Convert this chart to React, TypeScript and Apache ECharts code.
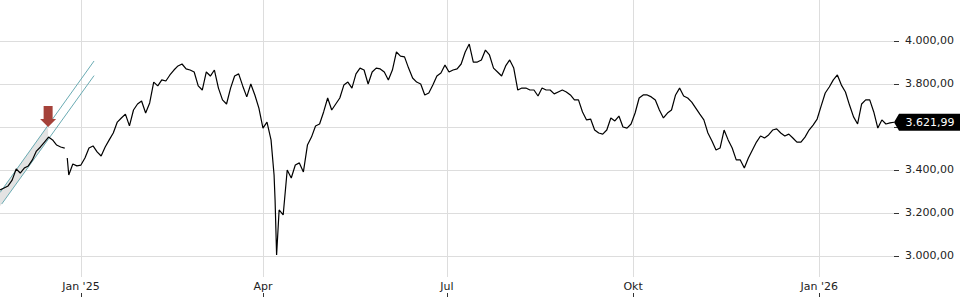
import React, { useEffect, useRef } from 'react';
import * as echarts from 'echarts';

// ---- data ----
const START_DATE = '2024-11-22';
const STEP_DAYS = 2;
// closing levels sampled every STEP_DAYS calendar days from START_DATE
const closes: number[] = [
  3307, 3316, 3326, 3353, 3405, 3386, 3409, 3419, 3447, 3488,
  3507, 3530, 3553, 3540, 3516, 3507, 3502, 3377, 3428, 3419,
  3423, 3456, 3502, 3512, 3484, 3465, 3507, 3540, 3572, 3623,
  3642, 3660, 3605, 3679, 3707, 3721, 3665, 3712, 3809, 3791,
  3819, 3814, 3842, 3865, 3884, 3893, 3870, 3865, 3856, 3791,
  3772, 3856, 3837, 3865, 3781, 3726, 3707, 3781, 3837, 3847,
  3791, 3740, 3800, 3749, 3688, 3595, 3623, 3540, 3260, 3214,
  3191, 3400, 3363, 3423, 3433, 3391, 3516, 3553, 3605, 3614,
  3670, 3735, 3679, 3707, 3735, 3795, 3809, 3781, 3847, 3874,
  3865, 3800, 3856, 3874, 3870, 3856, 3819, 3865, 3949, 3930,
  3926, 3874, 3828, 3809, 3800, 3749, 3758, 3795, 3837, 3851,
  3888, 3856, 3865, 3870, 3893, 3949, 3986, 3902, 3902, 3912,
  3958, 3935, 3874, 3856, 3837, 3884, 3912, 3874, 3772, 3781,
  3781, 3772, 3772, 3744, 3781, 3772, 3772, 3754, 3763, 3772,
  3763, 3749, 3726, 3726, 3670, 3633, 3637, 3586, 3572, 3567,
  3586, 3642, 3628, 3651, 3600, 3595, 3614, 3665, 3735, 3749,
  3749, 3740, 3726, 3679, 3642, 3665, 3679, 3749, 3781, 3744,
  3735, 3716, 3688, 3660, 3633, 3572, 3535, 3493, 3502, 3586,
  3540, 3502, 3447, 3447, 3409, 3456, 3493, 3530, 3558, 3549,
  3563, 3586, 3591, 3572, 3558, 3567, 3549, 3530, 3530, 3553,
  3586, 3609, 3637, 3698, 3758, 3786, 3819, 3842, 3795, 3763,
  3702, 3647, 3614, 3707, 3726, 3726, 3670, 3595, 3633, 3614,
  3619, 3621.99,
];
// intraday extras: holiday gap and the April crash low
const extraTimes = ['2024-12-24T18:00', '2024-12-25T06:00', '2025-04-06T12:00', '2025-04-07T18:00'];
const extraValues: (number | null)[] = [null, 3456, 3377, 3005];

const X_MIN = '2024-11-22';
const Y_MIN = 2902.3;
const Y_MAX = 4190.7;
const tickDates = ['2025-01-01', '2025-04-01', '2025-07-01', '2025-10-01', '2026-01-01'];
const tickLabels = ["Jan '25", 'Apr', 'Jul', 'Okt', "Jan '26"];
const yTicks = [3000, 3200, 3400, 3600, 3800, 4000];
// 3.600,00 is hidden behind the last-price tag in the reference
const yLabelValues = [3000, 3200, 3400, 3800, 4000];

// trend channel
const channelLowerDates = ['2024-11-22T21:00', '2025-01-07T12:00'];
const channelLowerValues = [3242, 3839];
const channelUpperDates = ['2024-11-22', '2025-01-07T12:00'];
const channelUpperValues = [3295, 3907];
const bandDates = ['2024-11-22', '2024-12-15T19:00'];
const bandLower = [3231, 3541];
const bandUpper = [3295, 3609];

// signal arrow
const signalDate = '2024-12-15T19:00';
const signalValue = 3600;

// ---- helpers ----
function ts(s: string): number {
  const [d, t] = s.split('T');
  const [y, m, dd] = d.split('-').map(Number);
  const [h, mi] = t ? t.split(':').map(Number) : [0, 0];
  return new Date(y, m - 1, dd, h, mi).getTime();
}

function fmtDE(v: number, digits = 2): string {
  const fixed = v.toFixed(digits);
  const [int, frac] = fixed.split('.');
  return int.replace(/\B(?=(\d{3})+(?!\d))/g, '.') + ',' + frac;
}

const [sy, sm, sd] = START_DATE.split('-').map(Number);
const pricePoints: [number, number | null][] = closes
  .map((v, i) => [new Date(sy, sm - 1, sd + STEP_DAYS * i).getTime(), v] as [number, number | null])
  .concat(extraTimes.map((t, i) => [ts(t), extraValues[i]] as [number, number | null]))
  .sort((a, b) => a[0] - b[0]);

const lastPoint = pricePoints[pricePoints.length - 1];
const tickTs = tickDates.map(ts);

const FONT = 'DejaVu Sans';
const TEAL = '#6aabb3';

const bandItem = [
  ts(bandDates[0]), bandLower[0], bandUpper[0],
  ts(bandDates[1]), bandLower[1], bandUpper[1],
];

const option: any = {
  animation: false,
  backgroundColor: '#ffffff',
  textStyle: { fontFamily: FONT },
  grid: { left: 0, right: 66, top: 0, bottom: 23, containLabel: false },
  xAxis: [
    {
      type: 'value',
      min: ts(X_MIN),
      max: lastPoint[0],
      axisLine: { show: false },
      axisTick: { show: false, customValues: tickTs },
      axisLabel: {
        customValues: tickTs,
        margin: 4,
        color: '#222',
        fontSize: 11,
        fontFamily: FONT,
        formatter: (val: number) => {
          const idx = tickTs.findIndex((t) => Math.abs(t - val) < 60000);
          return idx >= 0 ? tickLabels[idx] : '';
        },
      },
      splitLine: { show: true, lineStyle: { color: '#dddddd', width: 1 } },
    },
    {
      type: 'value',
      min: ts(X_MIN),
      max: lastPoint[0],
      position: 'bottom',
      offset: 16,
      axisLine: { show: false },
      axisTick: { show: true, length: 4, customValues: tickTs, lineStyle: { color: '#333' } },
      axisLabel: { show: false },
      splitLine: { show: false },
    },
  ],
  yAxis: {
    type: 'value',
    position: 'right',
    min: Y_MIN,
    max: Y_MAX,
    axisLine: { show: false },
    axisTick: { show: true, length: 5, customValues: yTicks, lineStyle: { color: '#333' } },
    axisLabel: {
      customValues: yLabelValues,
      margin: 11,
      color: '#222',
      fontSize: 11,
      fontFamily: FONT,
      formatter: (v: number) => fmtDE(v),
    },
    splitLine: { show: true, lineStyle: { color: '#dddddd', width: 1 } },
  },
  series: [
    {
      name: 'band',
      type: 'custom',
      data: [bandItem],
      encode: { x: [0, 3], y: [1, 2, 4, 5] },
      silent: true,
      z: 1,
      renderItem: (params: any, api: any) => {
        const p0 = api.coord([api.value(0), api.value(1)]);
        const p1 = api.coord([api.value(3), api.value(4)]);
        const p2 = api.coord([api.value(3), api.value(5)]);
        const p3 = api.coord([api.value(0), api.value(2)]);
        return {
          type: 'polygon',
          shape: { points: [p0, p1, p2, p3] },
          style: { fill: '#e3e3e3' },
        };
      },
    },
    {
      name: 'channelLower',
      type: 'line',
      data: channelLowerDates.map((d, i) => [ts(d), channelLowerValues[i]]),
      symbol: 'none',
      lineStyle: { color: TEAL, width: 1 },
      silent: true,
      z: 2,
    },
    {
      name: 'channelUpper',
      type: 'line',
      data: channelUpperDates.map((d, i) => [ts(d), channelUpperValues[i]]),
      symbol: 'none',
      lineStyle: { color: TEAL, width: 1 },
      silent: true,
      z: 2,
    },
    {
      name: 'price',
      type: 'line',
      data: pricePoints,
      symbol: 'none',
      connectNulls: false,
      clip: false,
      lineStyle: { color: '#000', width: 1.2 },
      z: 3,
      markPoint: {
        silent: true,
        data: [
          {
            name: 'signal',
            coord: [ts(signalDate), signalValue],
            symbol: 'path://M3.5,0L12.5,0L12.5,13L16,13L8,21L0,13L3.5,13Z',
            symbolSize: [16, 21],
            symbolOffset: [0, -10.5],
            itemStyle: { color: '#a5423a' },
            label: { show: false },
          },
          {
            name: 'last',
            coord: [lastPoint[0], lastPoint[1]],
            symbol: 'path://M0,8.5L5,0L67,0L67,17L5,17Z',
            symbolSize: [67, 17],
            symbolOffset: [33.5, 0],
            itemStyle: { color: '#000' },
            label: {
              show: true,
              position: 'inside',
              offset: [2.5, 0],
              color: '#fff',
              fontSize: 11,
              fontFamily: FONT,
              formatter: fmtDE(lastPoint[1] as number),
            },
          },
        ],
      },
    },
  ],
};

export default function App() {
  const ref = useRef<HTMLDivElement>(null);
  useEffect(() => {
    if (!ref.current) return;
    const chart = echarts.init(ref.current, null, { renderer: 'svg' });
    chart.setOption(option);
    return () => chart.dispose();
  }, []);
  return (
    <div
      ref={ref}
      style={{ position: 'fixed', left: 0, top: 0, width: 960, height: 300, background: '#fff' }}
    />
  );
}
